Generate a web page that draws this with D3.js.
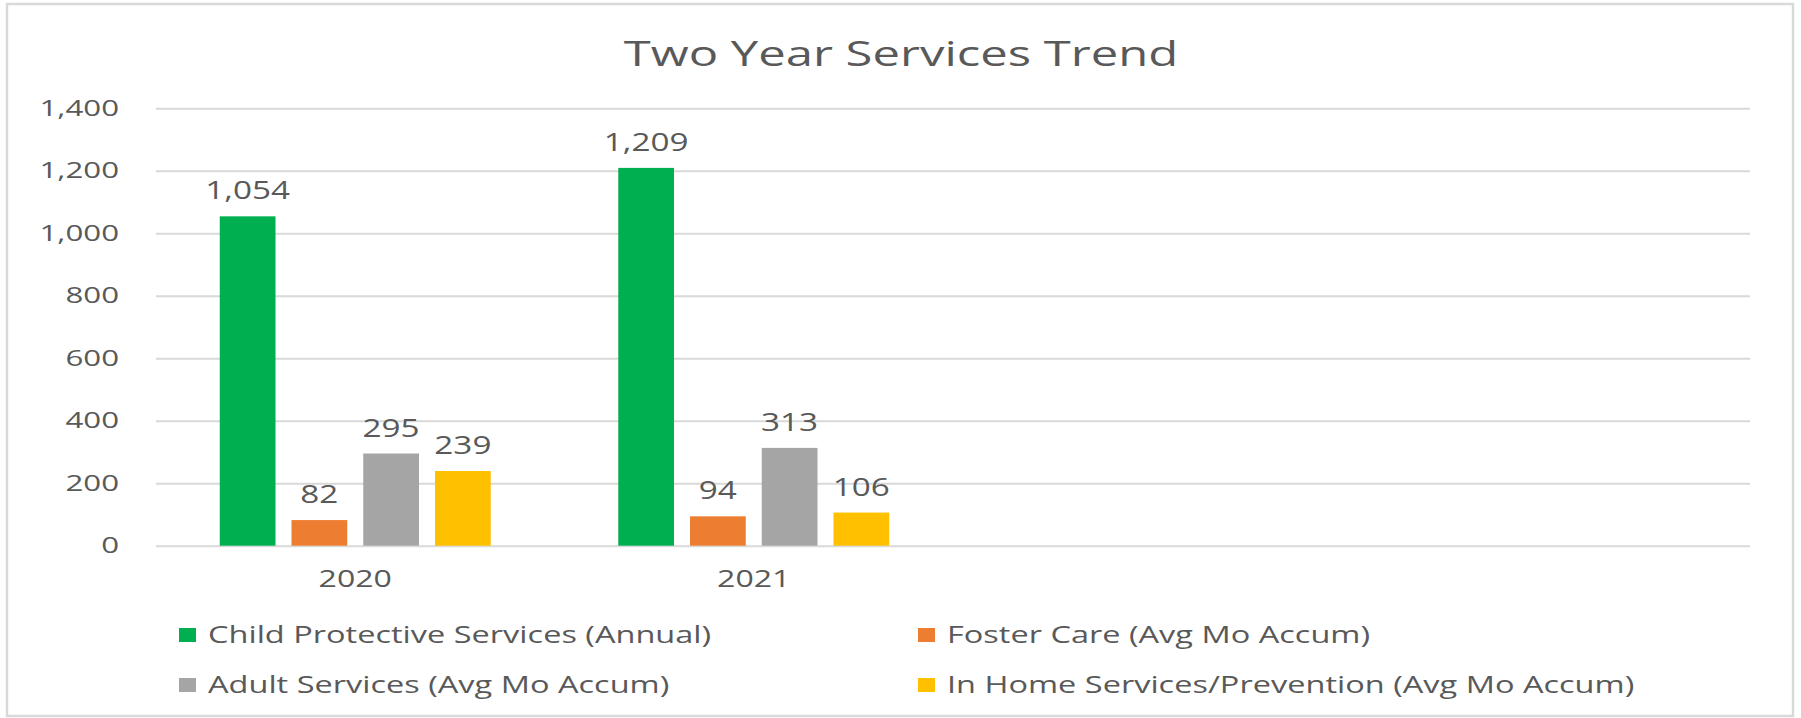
<!DOCTYPE html>
<html>
<head>
<meta charset="utf-8">
<script src="https://cdn.jsdelivr.net/npm/d3@7"></script>
<style>
  html, body { margin: 0; padding: 0; background: #ffffff; }
  svg { display: block; }
  text { font-family: "Open Sans", "Noto Sans", sans-serif; fill: #595959; }
</style>
</head>
<body>
<svg id="chart" width="1801" height="718"></svg>
<script>
// ---- data ----
const title = "Two Year Services Trend";
const categories = ["2020", "2021", "", " "];   // two empty category slots in the source sheet
const seriesNames = [
  "Child Protective Services (Annual)",
  "Foster Care (Avg Mo Accum)",
  "Adult Services (Avg Mo Accum)",
  "In Home Services/Prevention (Avg Mo Accum)"
];
const childProtective = [1054, 1209, null, null];
const fosterCare      = [82, 94, null, null];
const adultServices   = [295, 313, null, null];
const inHomeServices  = [239, 106, null, null];
const yTicks = [0, 200, 400, 600, 800, 1000, 1200, 1400];
const seriesColors = ["#00B050", "#ED7D31", "#A5A5A5", "#FFC000"];

const seriesValues = [childProtective, fosterCare, adultServices, inHomeServices];

// ---- layout ----
const svg = d3.select("#chart");
const plot = { left: 156, right: 1750, top: 108.2, bottom: 545.7 };

// frame
svg.append("rect")
  .attr("x", 7).attr("y", 4).attr("width", 1786).attr("height", 712)
  .attr("fill", "#ffffff").attr("stroke", "#d9d9d9").attr("stroke-width", 2.5);

function stretch(sel, factor) {
  sel.each(function () {
    const w = this.getComputedTextLength();
    if (w > 0) d3.select(this).attr("textLength", w * factor).attr("lengthAdjust", "spacingAndGlyphs");
  });
}

// title
svg.append("text")
  .attr("x", 901).attr("y", 66)
  .attr("text-anchor", "middle")
  .style("font-size", "34px")
  .text(title)
  .call(stretch, 1.44);

// scales
const x0 = d3.scaleBand().domain(categories).range([plot.left, plot.right])
  .paddingInner(0.32).paddingOuter(0.16);
const x1 = d3.scaleBand().domain(d3.range(seriesNames.length)).range([0, x0.bandwidth()])
  .paddingInner(0.223).paddingOuter(0);
const y = d3.scaleLinear().domain([0, 1400]).range([plot.bottom, plot.top]);

// y axis + gridlines
const yAxis = svg.append("g")
  .attr("transform", `translate(${plot.left},0)`)
  .call(d3.axisLeft(y).tickValues(yTicks).tickFormat(d3.format(","))
    .tickSize(-(plot.right - plot.left)).tickPadding(37));
yAxis.select(".domain").remove();
yAxis.selectAll(".tick line").attr("stroke", "#d9d9d9").attr("stroke-width", 2);
yAxis.selectAll(".tick text")
  .style("font-size", "22px").attr("fill", "#595959")
  .style("font-family", "'Open Sans', sans-serif")
  .call(stretch, 1.42);

// x axis labels
const xAxis = svg.append("g")
  .attr("transform", `translate(0,${plot.bottom})`)
  .call(d3.axisBottom(x0).tickSize(0).tickPadding(25));
xAxis.select(".domain").remove();
xAxis.selectAll(".tick text")
  .style("font-size", "23.4px").attr("fill", "#595959")
  .style("font-family", "'Open Sans', sans-serif")
  .call(stretch, 1.37);

// bars
const barData = [];
categories.forEach((c, ci) => {
  seriesValues.forEach((vals, si) => {
    if (vals[ci] != null) barData.push({ cat: c, s: si, v: vals[ci] });
  });
});

const bars = svg.append("g");
bars.selectAll("rect").data(barData).join("rect")
  .attr("x", d => x0(d.cat) + x1(d.s))
  .attr("width", x1.bandwidth())
  .attr("y", d => y(d.v))
  .attr("height", d => y(0) - y(d.v))
  .attr("fill", d => seriesColors[d.s]);

// value labels
const fmt = d3.format(",");
bars.selectAll("text").data(barData).join("text")
  .attr("x", d => x0(d.cat) + x1(d.s) + x1.bandwidth() / 2)
  .attr("y", d => y(d.v) - 17)
  .attr("text-anchor", "middle")
  .style("font-size", "25.6px")
  .text(d => fmt(d.v))
  .call(stretch, 1.3);

// legend
const legendCols = [177, 916];
const legendRows = [643, 693];
const legend = svg.append("g");
seriesNames.forEach((name, i) => {
  const lx = legendCols[i % 2], ly = legendRows[Math.floor(i / 2)];
  legend.append("rect")
    .attr("x", lx + 2).attr("y", ly - 15).attr("width", 17).attr("height", 14)
    .attr("fill", seriesColors[i]);
  legend.append("text")
    .attr("x", lx + 31).attr("y", ly)
    .style("font-size", "23.4px")
    .text(name)
    .call(stretch, 1.39);
});
</script>
</body>
</html>
